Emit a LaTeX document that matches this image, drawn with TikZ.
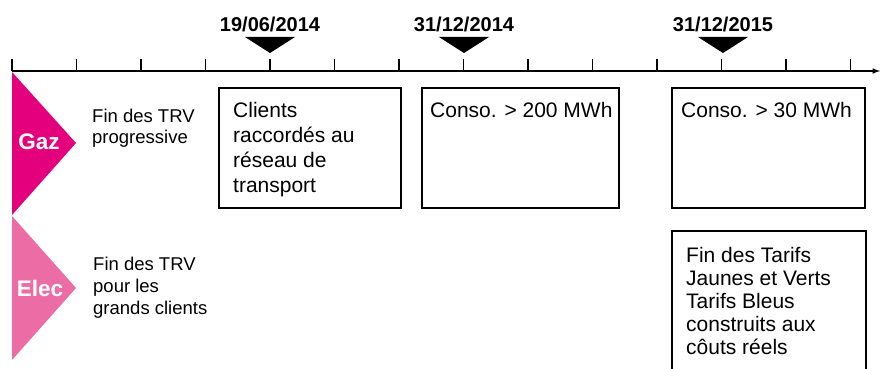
\documentclass[tikz,border=0pt]{standalone}
\usepackage{fontspec}
\setmainfont{Liberation Sans}
\usepackage{xcolor}
\usetikzlibrary{arrows, positioning}
\definecolor{gazmag}{HTML}{E4007C}
\definecolor{elecpink}{HTML}{EC6DA6}

\begin{document}
\begin{tikzpicture}[
  x=1pt, y=-1pt,
  every node/.style={inner sep=0pt},
  tick/.style={line width=1.5pt},
  axis/.style={line width=1.5pt, -latex},
  datemark/.style={fill=black},
  datelabel/.style={font=\fontsize{20}{24}\selectfont\bfseries, anchor=base},
  energy/.style={font=\fontsize{22.5}{27}\selectfont\bfseries, text=white},
  sidenote/.style={font=\fontsize{18.5}{21}\selectfont, align=left, anchor=north west},
  phase/.style={draw, line width=1.6pt, anchor=north west, minimum height=120pt},
  phasetext/.style={font=\fontsize{21}{25}\selectfont, align=left}
]
\useasboundingbox (0,0) rectangle (881,369);
\clip (0,0) rectangle (881,369);

% time axis
\coordinate (t0) at (12,71);
\coordinate (tend) at (880,71);
\draw[axis] (t0) -- (tend);
\foreach \k in {0,...,13}
  \draw[tick] (12+64.5*\k,59) -- (12+64.5*\k,71);

% key dates
\node[datelabel] (d1) at (270,32)  {19/06/2014};
\node[datelabel] (d2) at (464,32)  {31/12/2014};
\node[datelabel] (d3) at (723,32)  {31/12/2015};
\fill[datemark] (245,37) -- (295,37) -- (270,53) -- cycle;
\fill[datemark] (439,37) -- (489,37) -- (464,53) -- cycle;
\fill[datemark] (698,37) -- (748,37) -- (723,53) -- cycle;

% energies
\fill[gazmag]   (12,72)  -- (76,143) -- (12,215) -- cycle;
\fill[elecpink] (12,216) -- (76,288) -- (12,360) -- cycle;
\node[energy] (gaz)  at (39,142) {Gaz};
\node[energy] (elec) at (40,288) {Elec};

\node[sidenote] (gnote) at (92,109) {Fin des TRV\\progressive};
\node[sidenote, font=\fontsize{18.5}{22}\selectfont] (enote) at (93,257) {Fin des TRV\\pour les\\grands clients};

% steps
\node[phase, minimum width=182pt] (b1) at (218,87) {};
\node[phasetext, below right=15pt and 15pt of b1.north west] (t1) {Clients\\raccordés au\\réseau de\\transport};

\node[phase, minimum width=197pt] (b2) at (421,87) {};
\node[phasetext, below right=15pt and 9pt of b2.north west] (t2) {Conso. > 200 MWh};

\node[phase, minimum width=193pt] (b3) at (671,87) {};
\node[phasetext, below right=15pt and 10pt of b3.north west] (t3) {Conso. > 30 MWh};

\node[phase, minimum width=194pt, minimum height=170pt] (b4) at (671,230) {};
\node[phasetext, font=\fontsize{21}{23}\selectfont, below right=17pt and 15pt of b4.north west] (t4) {Fin des Tarifs\\Jaunes et Verts\\Tarifs Bleus\\construits aux\\côuts réels};
\end{tikzpicture}
\end{document}
